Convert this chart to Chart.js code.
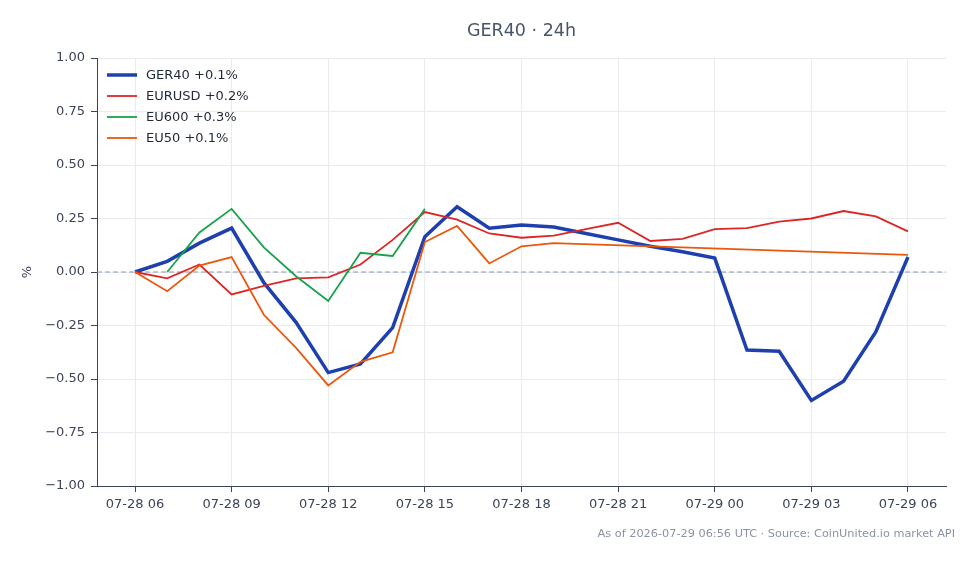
<!DOCTYPE html>
<html>
<head>
<meta charset="utf-8">
<script src="https://cdn.jsdelivr.net/npm/chart.js@4/dist/chart.umd.min.js"></script>
<style>
  html, body { margin: 0; padding: 0; background: #ffffff; }
  #wrap { width: 978px; height: 564px; }
</style>
</head>
<body>
<div id="wrap"><canvas id="chart" width="978" height="564"></canvas></div>
<script>
// hours since 07-28 06:00 UTC
var hours = [0, 1, 2, 3, 4, 5, 6, 7, 8, 9, 10, 11, 12, 13, 14, 15, 16, 17, 18, 19, 20, 21, 22, 23, 24];
var tickHours = [0, 3, 6, 9, 12, 15, 18, 21, 24];
var tickLabels = ['07-28 06', '07-28 09', '07-28 12', '07-28 15', '07-28 18', '07-28 21', '07-29 00', '07-29 03', '07-29 06'];

var seriesNames = ['GER40', 'EURUSD', 'EU600', 'EU50'];
var ger40 = [0, 0.05, 0.135, 0.205, -0.05, -0.235, -0.47, -0.43, -0.26, 0.165, 0.305, 0.205, 0.22, 0.21, 0.18, 0.15, 0.12, 0.095, 0.065, -0.365, -0.37, -0.6, -0.51, -0.28, 0.07];
var eurusd = [0, -0.03, 0.035, -0.105, -0.065, -0.03, -0.025, 0.035, 0.15, 0.28, 0.245, 0.18, 0.16, 0.17, 0.2, 0.23, 0.145, 0.155, 0.2, 0.205, 0.235, 0.25, 0.285, 0.26, 0.19];
var eu600 = [null, 0, 0.185, 0.295, 0.115, -0.02, -0.135, 0.09, 0.075, 0.295, null, null, null, null, null, null, null, null, null, null, null, null, null, null, null];
var eu50 = [0, -0.09, 0.03, 0.07, -0.2, -0.355, -0.53, -0.42, -0.375, 0.14, 0.215, 0.04, 0.12, 0.135, null, null, null, null, null, null, null, null, null, null, 0.08];

var colors = ['#1e40af', '#dc2626', '#16a34a', '#ea580c'];
var widths = [3.5, 1.8, 1.8, 1.8];

var font = "'DejaVu Sans', sans-serif";
var titleText = 'GER40 \u00b7 24h';
var footerText = 'As of 2026-07-29 06:56 UTC \u00b7 Source: CoinUnited.io market API';

function lastValue(arr) {
  for (var i = arr.length - 1; i >= 0; i--) {
    if (arr[i] !== null) return arr[i];
  }
  return 0;
}

function changeLabel(name, arr) {
  var v = lastValue(arr);
  return name + ' ' + (v >= 0 ? '+' : '\u2212') + Math.abs(v).toFixed(1) + '%';
}

var allSeries = [ger40, eurusd, eu600, eu50];
var datasets = allSeries.map(function (arr, i) {
  return {
    label: changeLabel(seriesNames[i], arr),
    data: hours.map(function (h, j) { return { x: h, y: arr[j] }; }),
    borderColor: colors[i],
    backgroundColor: colors[i],
    borderWidth: widths[i],
    pointRadius: 0,
    tension: 0,
    spanGaps: true,
    order: 4 - i
  };
});

// dashed zero line, title over the plot, legend inside, footer note
var extras = {
  id: 'extras',
  beforeDatasetsDraw: function (chart) {
    var c = chart.ctx, a = chart.chartArea;
    var y = chart.scales.y.getPixelForValue(0);
    c.save();
    c.strokeStyle = '#8c99b2';
    c.lineWidth = 1;
    c.setLineDash([5, 3]);
    c.beginPath();
    c.moveTo(a.left, y);
    c.lineTo(a.right, y);
    c.stroke();
    c.restore();
  },
  afterDraw: function (chart) {
    var c = chart.ctx, a = chart.chartArea;
    c.save();
    c.font = '17.5px ' + font;
    c.fillStyle = '#475569';
    c.textAlign = 'center';
    c.textBaseline = 'middle';
    c.fillText(titleText, (a.left + a.right) / 2, 31);

    c.font = '13px ' + font;
    c.textAlign = 'left';
    chart.data.datasets.forEach(function (ds, i) {
      var y = a.top + 17 + i * 21;
      c.strokeStyle = ds.borderColor;
      c.lineWidth = ds.borderWidth;
      c.beginPath();
      c.moveTo(a.left + 10, y);
      c.lineTo(a.left + 40, y);
      c.stroke();
      c.fillStyle = '#1f2937';
      c.fillText(ds.label, a.left + 49, y + 1);
    });

    c.font = '11.3px ' + font;
    c.fillStyle = '#8a93a3';
    c.textAlign = 'right';
    c.fillText(footerText, 955, 534);
    c.restore();
  }
};

new Chart(document.getElementById('chart'), {
  type: 'line',
  data: { datasets: datasets },
  options: {
    responsive: false,
    animation: false,
    layout: { padding: { left: 0, right: 32, top: 58, bottom: 0 } },
    plugins: {
      legend: { display: false },
      tooltip: { enabled: false }
    },
    scales: {
      x: {
        type: 'linear',
        min: -1.18,
        max: 25.18,
        afterBuildTicks: function (scale) {
          scale.ticks = tickHours.map(function (v) { return { value: v }; });
        },
        afterFit: function (scale) { scale.height = 78; },
        grid: { color: '#e8ebf0', tickColor: '#3b4556', tickLength: 6 },
        border: { display: true, color: '#3b4556', width: 1 },
        ticks: {
          autoSkip: false,
          maxRotation: 0,
          padding: 5,
          color: '#3b4556',
          font: { family: font, size: 13 },
          callback: function (v) {
            var i = tickHours.indexOf(v);
            return i >= 0 ? tickLabels[i] : '';
          }
        }
      },
      y: {
        min: -1,
        max: 1,
        afterFit: function (scale) { scale.width = 97; },
        grid: { color: '#e8ebf0', tickColor: '#3b4556', tickLength: 6 },
        border: { display: true, color: '#3b4556', width: 1 },
        title: {
          display: true,
          text: '%',
          color: '#3b4556',
          font: { family: font, size: 13 },
          padding: { top: 20, bottom: 0 }
        },
        ticks: {
          stepSize: 0.25,
          padding: 6,
          color: '#3b4556',
          font: { family: font, size: 13 },
          callback: function (v) {
            return (v < 0 ? '\u2212' : '') + Math.abs(v).toFixed(2);
          }
        }
      }
    }
  },
  plugins: [extras]
});
</script>
</body>
</html>
